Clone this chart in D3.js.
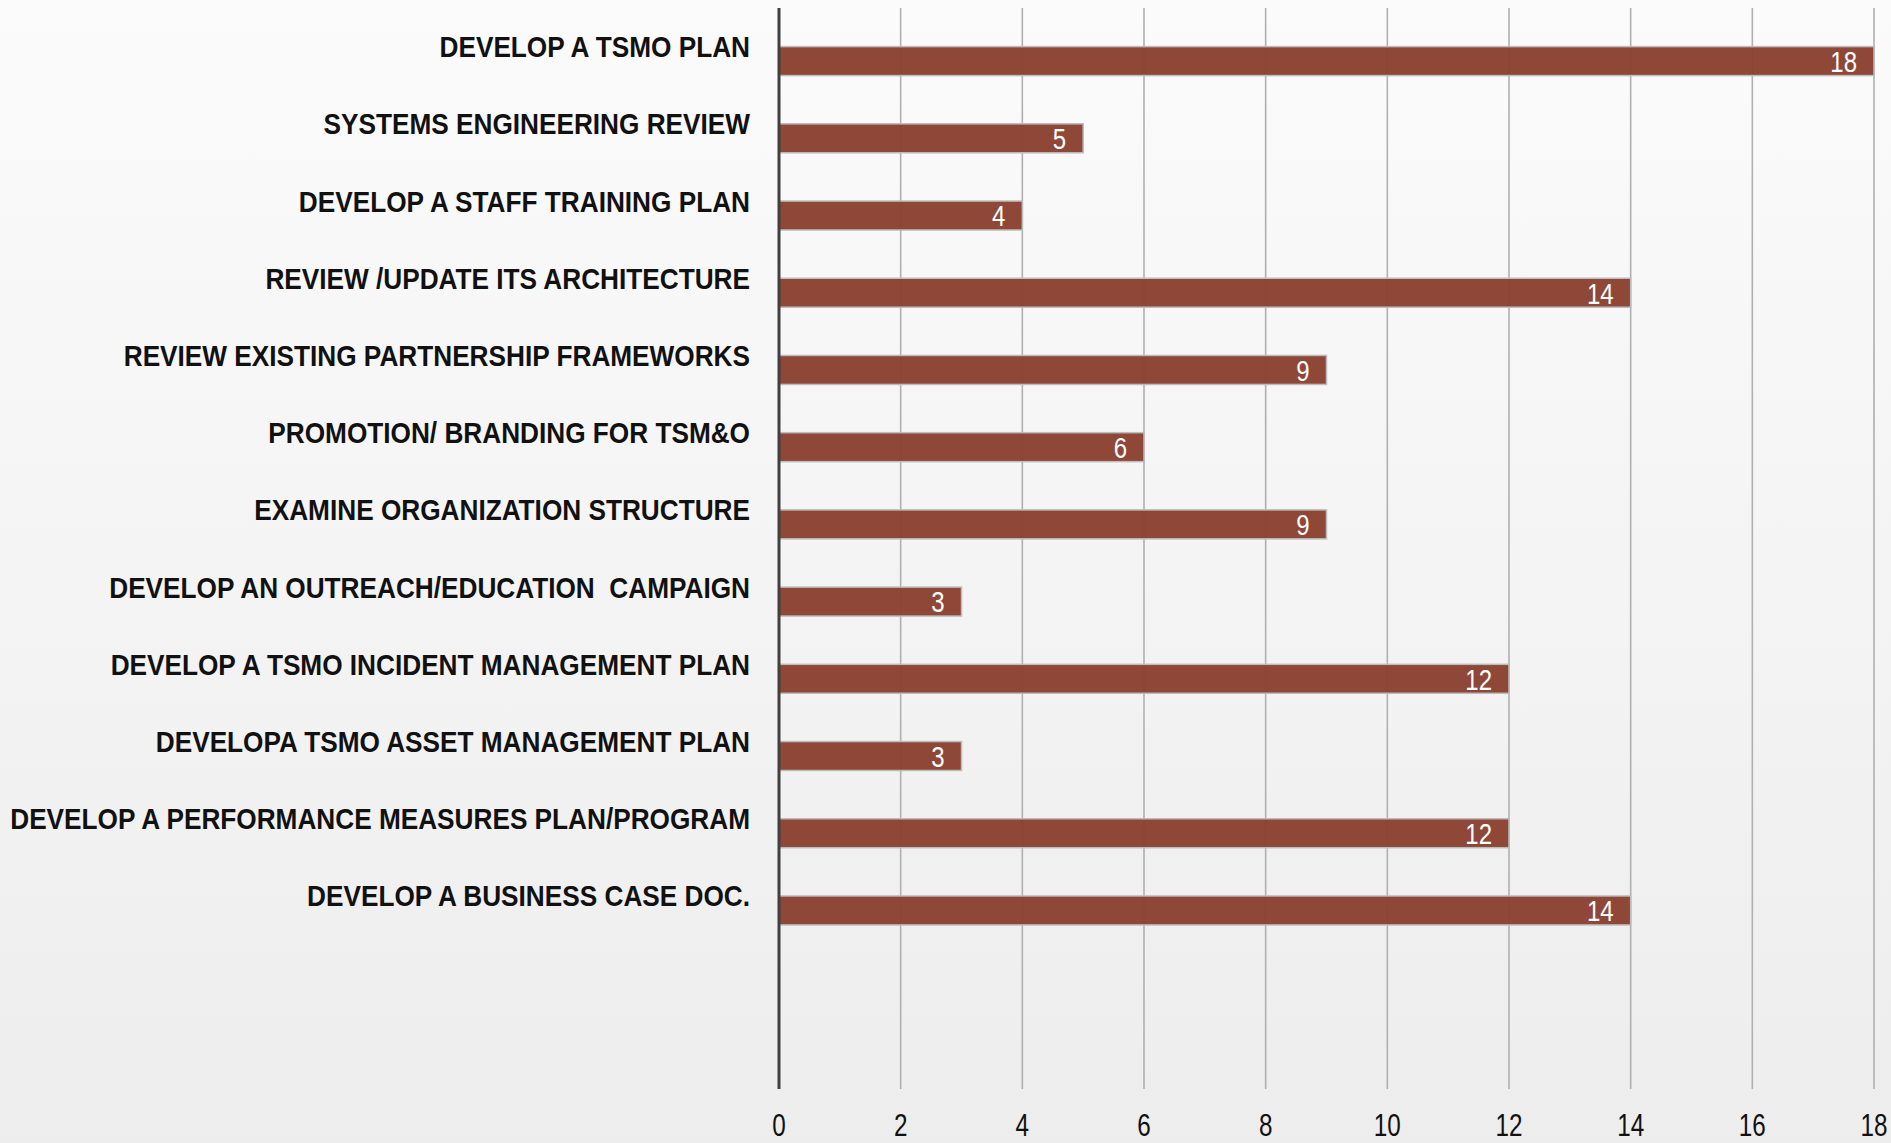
<!DOCTYPE html>
<html>
<head>
<meta charset="utf-8">
<script src="https://cdn.jsdelivr.net/npm/d3@7"></script>
<style>
  html, body { margin: 0; padding: 0; }
  body { width: 1891px; height: 1143px; overflow: hidden; }
  svg { display: block; }
  text { font-family: "Liberation Sans", Arial, sans-serif; white-space: pre; }
</style>
</head>
<body>
<svg id="chart" width="1891" height="1143"></svg>
<script>
const categories = [
  "DEVELOP A TSMO PLAN",
  "SYSTEMS ENGINEERING REVIEW",
  "DEVELOP A STAFF TRAINING PLAN",
  "REVIEW /UPDATE ITS ARCHITECTURE",
  "REVIEW EXISTING PARTNERSHIP FRAMEWORKS",
  "PROMOTION/ BRANDING FOR TSM&O",
  "EXAMINE ORGANIZATION STRUCTURE",
  "DEVELOP AN OUTREACH/EDUCATION  CAMPAIGN",
  "DEVELOP A TSMO INCIDENT MANAGEMENT PLAN",
  "DEVELOPA TSMO ASSET MANAGEMENT PLAN",
  "DEVELOP A PERFORMANCE MEASURES PLAN/PROGRAM",
  "DEVELOP A BUSINESS CASE DOC.",
  "",
  ""
];
const seriesNames = ["(none)", "Count"];
const emptySeries = [null, null, null, null, null, null, null, null, null, null, null, null, null, null];
const counts = [18, 5, 4, 14, 9, 6, 9, 3, 12, 3, 12, 14, null, null];
const xTicks = [0, 2, 4, 6, 8, 10, 12, 14, 16, 18];

const W = 1891, H = 1143;
const margin = { top: 8, right: 17, bottom: 54, left: 779 };
const svg = d3.select("#chart");

// background gradient
const defs = svg.append("defs");
const grad = defs.append("linearGradient").attr("id", "bg").attr("x1", 0).attr("y1", 0).attr("x2", 0).attr("y2", 1);
grad.append("stop").attr("offset", "0%").attr("stop-color", "#fbfbfb");
grad.append("stop").attr("offset", "100%").attr("stop-color", "#ededed");
svg.append("rect").attr("width", W).attr("height", H).attr("fill", "url(#bg)");

const x = d3.scaleLinear().domain([0, 18]).range([margin.left, W - margin.right]);
const idx = categories.map((d, i) => i);
const y = d3.scaleBand().domain(idx).range([margin.top, H - margin.bottom]).paddingInner(0).paddingOuter(0);
const inner = d3.scaleBand().domain(seriesNames).range([0, y.bandwidth()]).paddingInner(0).paddingOuter(0.333);

const plotTop = margin.top, plotBottom = H - margin.bottom;

// gridlines
svg.append("g").selectAll("line").data(xTicks.filter(t => t > 0)).join("line")
  .attr("x1", d => x(d)).attr("x2", d => x(d))
  .attr("y1", plotTop).attr("y2", plotBottom)
  .attr("stroke", "#b0b0b0").attr("stroke-width", 1.6);

// x tick labels (condensed)
const tickScale = 0.77;
svg.append("g").selectAll("text").data(xTicks).join("text")
  .attr("transform", d => `translate(${x(d)},1136) scale(${tickScale},1)`)
  .attr("text-anchor", "middle")
  .attr("font-size", 31.5).attr("fill", "#111")
  .text(d => d);

// bars
const rows = idx.map(i => ({ i, vals: [emptySeries[i], counts[i]] }));
const barG = svg.append("g");
const valScale = 0.8;
rows.forEach(r => {
  r.vals.forEach((v, k) => {
    if (v == null) return;
    const yy = y(r.i) + inner(seriesNames[k]);
    barG.append("rect")
      .attr("x", x(0)).attr("y", yy)
      .attr("width", x(v) - x(0)).attr("height", inner.bandwidth())
      .attr("fill", "#8a4030").attr("fill-opacity", 0.96)
      .attr("stroke", "#bcbcbc").attr("stroke-width", 1.5);
    barG.append("text")
      .attr("transform", `translate(${x(v) - 17},${yy + inner.bandwidth() / 2}) scale(${valScale},1)`)
      .attr("dy", "0.36em").attr("text-anchor", "end")
      .attr("font-size", 30).attr("fill", "#ffffff")
      .text(v);
  });
});

// category labels (condensed bold), fitted so the longest one spans the width seen in the chart
const labelRight = 750, labelWidthLongest = 740;
const labG = svg.append("g");
const labels = labG.selectAll("text").data(idx).join("text")
  .attr("text-anchor", "end")
  .attr("font-size", 30).attr("font-weight", "bold").attr("fill", "#111")
  .attr("dy", "0.35em")
  .text(i => categories[i]);
let maxLen = 0;
labels.each(function() { maxLen = Math.max(maxLen, this.getComputedTextLength()); });
const labScale = maxLen > 0 ? labelWidthLongest / maxLen : 0.86;
labels.attr("transform", i => `translate(${labelRight},${y(i) + y.bandwidth() / 2}) scale(${labScale},1)`);

// left axis line
svg.append("line").attr("x1", x(0)).attr("x2", x(0)).attr("y1", plotTop).attr("y2", plotBottom)
  .attr("stroke", "#404040").attr("stroke-width", 3);
</script>
</body>
</html>
